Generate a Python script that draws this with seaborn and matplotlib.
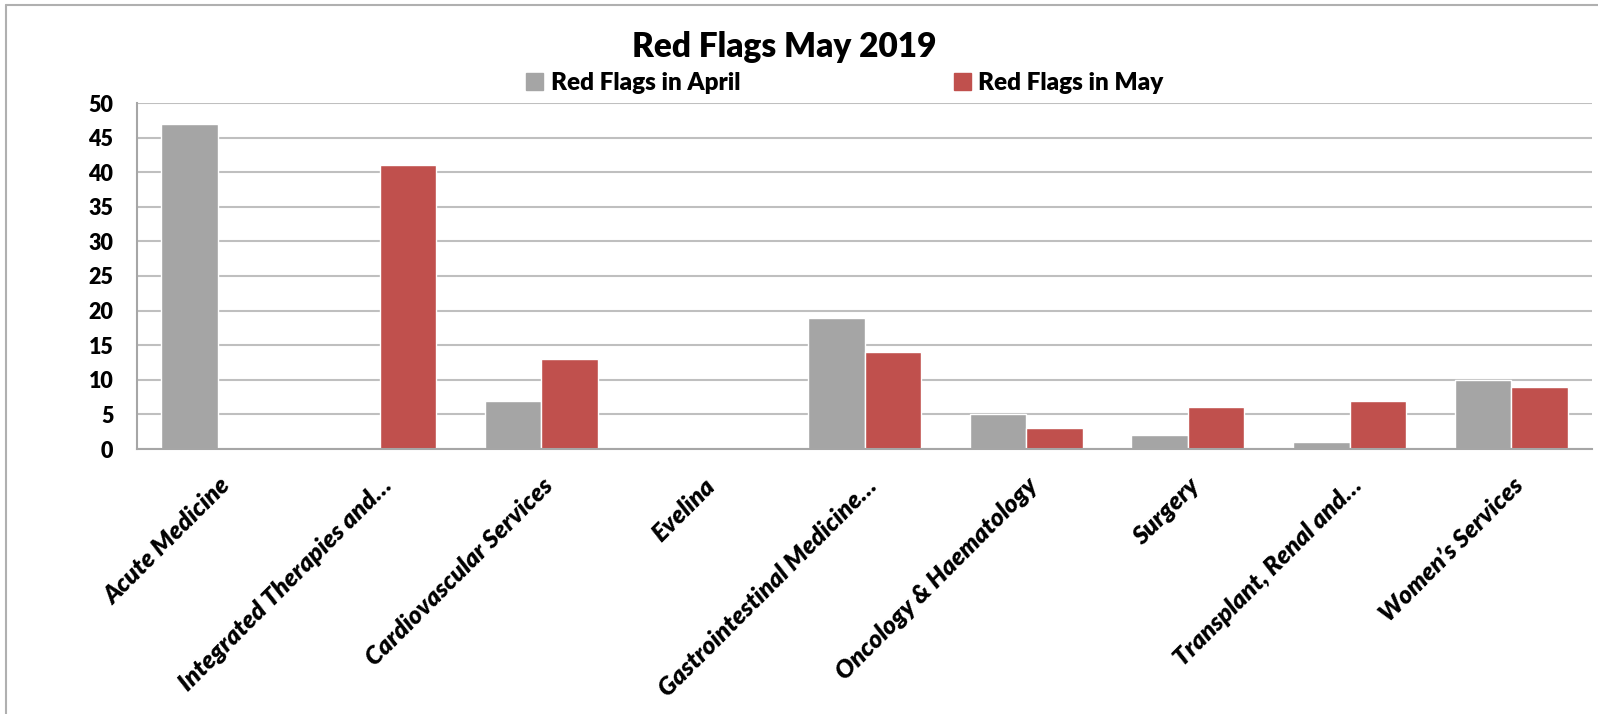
import matplotlib
matplotlib.use("Agg")
import matplotlib.pyplot as plt
import seaborn as sns
import pandas as pd
from matplotlib.lines import Line2D

categories = ["Acute Medicine", "Integrated Therapies and\u2026", "Cardiovascular Services",
              "Evelina", "Gastrointestinal Medicine\u2026", "Oncology & Haematology",
              "Surgery", "Transplant, Renal and\u2026", "Women\u2019s Services"]
april = [47, 0, 7, 0, 19, 5, 2, 1, 10]
may = [0, 41, 13, 0, 14, 3, 6, 7, 9]
series = ["Red Flags in April", "Red Flags in May"]
colors = ["#A5A5A5", "#C0504D"]
yticks = [0, 5, 10, 15, 20, 25, 30, 35, 40, 45, 50]

df = pd.DataFrame({
    "category": categories * 2,
    "value": april + may,
    "series": [series[0]] * len(categories) + [series[1]] * len(categories),
})

sns.set_theme(style="white")
plt.rcParams["font.family"] = ["Lato", "DejaVu Sans"]
plt.rcParams["text.color"] = "black"

fig = plt.figure(figsize=(15.98, 7.14), dpi=100)
ax = fig.add_axes([137/1598, 1-449/714, (1592-137)/1598, (449-103)/714])

sns.barplot(data=df, x="category", y="value", hue="series", palette=colors,
            width=0.7, saturation=1, ax=ax, legend=False, order=categories,
            hue_order=series)

ax.set_ylim(0, 50)
ax.set_xlim(-0.5, len(categories) - 0.5)
ax.set_yticks(yticks)
ax.set_yticklabels([str(t) for t in yticks], fontsize=15.5, fontweight="heavy", color="black")
ax.yaxis.grid(True, color="#BFBFBF", linewidth=1.5)
ax.set_axisbelow(True)
ax.set_xlabel("")
ax.set_ylabel("")

for s in ["top", "right"]:
    ax.spines[s].set_visible(False)
for s in ["left", "bottom"]:
    ax.spines[s].set_color("#A6A6A6")
    ax.spines[s].set_linewidth(1.5)

ax.tick_params(axis="y", length=0, pad=17)
ax.tick_params(axis="x", which="major", length=0, pad=18)
ax.set_xticks([i + 0.5 for i in range(-1, len(categories))], minor=True)
ax.tick_params(axis="x", which="minor", length=8, width=1.5, color="#A6A6A6", direction="out")
ax.set_xticks(range(len(categories)))
ax.set_xticklabels(categories, rotation=45, ha="right", rotation_mode="anchor",
                   fontsize=18, fontweight="heavy", fontstyle="italic", color="black")

fig.text(784/1598, 1-47/714, "Red Flags May 2019", ha="center", va="center",
         fontsize=24, fontweight="heavy", color="black")

handles = [plt.Rectangle((0, 0), 1, 1, color=c) for c in colors]
fig.legend(handles, series, loc="center", bbox_to_anchor=(845/1598, 1-83/714), ncol=2,
           frameon=False, prop={"size": 17.5, "weight": "heavy"}, handlelength=0.7,
           handleheight=0.7, handletextpad=0.3, columnspacing=8.8)

fig.add_artist(Line2D([6/1598, 6/1598], [0, 1-5/714], transform=fig.transFigure,
                      color="#B0B0B0", linewidth=1.5))
fig.add_artist(Line2D([6/1598, 1], [1-5/714, 1-5/714], transform=fig.transFigure,
                      color="#B0B0B0", linewidth=1.5))

fig.savefig("out.png", dpi=100)
